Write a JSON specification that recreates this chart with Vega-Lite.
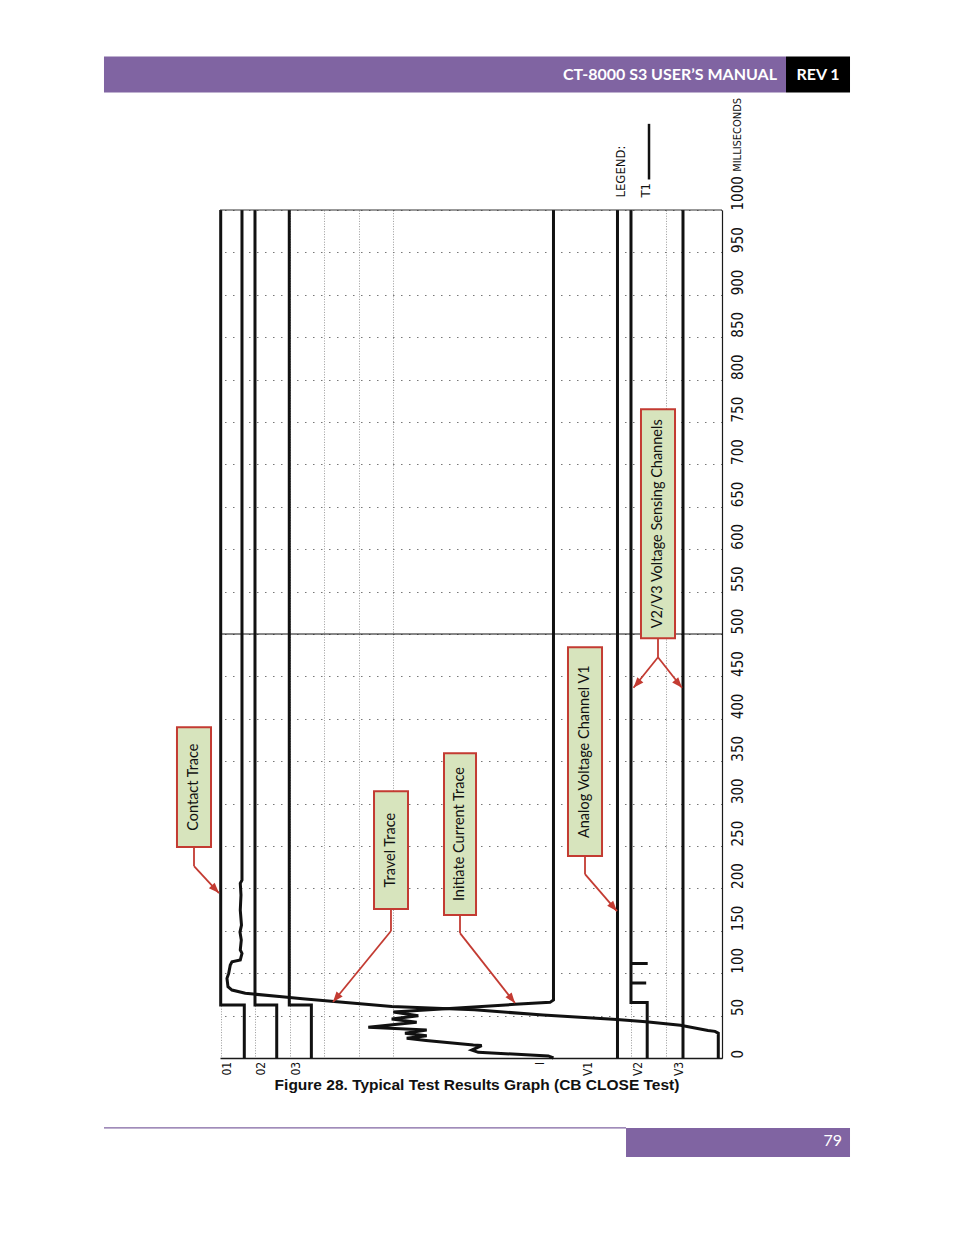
{
  "$schema": "https://vega.github.io/schema/vega-lite/v6.json",
  "width": 502,
  "height": 848,
  "autosize": {"type": "none"},
  "padding": {"left": 220, "top": 210, "right": 232, "bottom": 177},
  "background": "white",
  "config": {"view": {"stroke": null}, "font": "Lato"},
  "datasets": {
    "traces": [
      {"trace": "01", "seq": 1, "pos": 0.14, "ms": 1000},
      {"trace": "01", "seq": 2, "pos": 0.14, "ms": 62.5},
      {"trace": "01", "seq": 3, "pos": 4.84, "ms": 62.5},
      {"trace": "01", "seq": 4, "pos": 4.84, "ms": 0},
      {"trace": "02", "seq": 1, "pos": 6.97, "ms": 1000},
      {"trace": "02", "seq": 2, "pos": 6.97, "ms": 62.5},
      {"trace": "02", "seq": 3, "pos": 11.3, "ms": 62.5},
      {"trace": "02", "seq": 4, "pos": 11.3, "ms": 0},
      {"trace": "03", "seq": 1, "pos": 13.8, "ms": 1000},
      {"trace": "03", "seq": 2, "pos": 13.8, "ms": 62.5},
      {"trace": "03", "seq": 3, "pos": 18.2, "ms": 62.5},
      {"trace": "03", "seq": 4, "pos": 18.2, "ms": 0},
      {"trace": "Travel", "seq": 1, "pos": 99.26, "ms": 0},
      {"trace": "Travel", "seq": 2, "pos": 99.26, "ms": 29.2},
      {"trace": "Travel", "seq": 3, "pos": 98.6, "ms": 31.4},
      {"trace": "Travel", "seq": 4, "pos": 97.21, "ms": 32.5},
      {"trace": "Travel", "seq": 5, "pos": 91.73, "ms": 38.5},
      {"trace": "Travel", "seq": 6, "pos": 84.86, "ms": 42.7},
      {"trace": "Travel", "seq": 7, "pos": 79.08, "ms": 45.5},
      {"trace": "Travel", "seq": 8, "pos": 64.34, "ms": 50.7},
      {"trace": "Travel", "seq": 9, "pos": 50.66, "ms": 56.8},
      {"trace": "Travel", "seq": 10, "pos": 34.22, "ms": 60.8},
      {"trace": "Travel", "seq": 11, "pos": 16.43, "ms": 69.8},
      {"trace": "Travel", "seq": 12, "pos": 12.35, "ms": 72.2},
      {"trace": "Travel", "seq": 13, "pos": 5.04, "ms": 76.3},
      {"trace": "Travel", "seq": 14, "pos": 2.39, "ms": 80.1},
      {"trace": "Travel", "seq": 15, "pos": 1.59, "ms": 84.0},
      {"trace": "Travel", "seq": 16, "pos": 1.39, "ms": 93.9},
      {"trace": "Travel", "seq": 17, "pos": 1.73, "ms": 99.8},
      {"trace": "Travel", "seq": 18, "pos": 2.05, "ms": 109.6},
      {"trace": "Travel", "seq": 19, "pos": 2.39, "ms": 113.5},
      {"trace": "Travel", "seq": 20, "pos": 4.04, "ms": 115.5},
      {"trace": "Travel", "seq": 21, "pos": 4.38, "ms": 123.4},
      {"trace": "Travel", "seq": 22, "pos": 4.04, "ms": 127.3},
      {"trace": "Travel", "seq": 23, "pos": 4.24, "ms": 139.1},
      {"trace": "Travel", "seq": 24, "pos": 3.98, "ms": 148.5},
      {"trace": "Travel", "seq": 25, "pos": 4.28, "ms": 156.7},
      {"trace": "Travel", "seq": 26, "pos": 4.04, "ms": 174.4},
      {"trace": "Travel", "seq": 27, "pos": 4.18, "ms": 192.1},
      {"trace": "Travel", "seq": 28, "pos": 4.04, "ms": 205.9},
      {"trace": "Travel", "seq": 29, "pos": 4.38, "ms": 209.8},
      {"trace": "Travel", "seq": 30, "pos": 4.38, "ms": 1000},
      {"trace": "I", "seq": 1, "pos": 66.43, "ms": 0},
      {"trace": "I", "seq": 2, "pos": 65.4, "ms": 2.4},
      {"trace": "I", "seq": 3, "pos": 51.45, "ms": 6.7},
      {"trace": "I", "seq": 4, "pos": 50.14, "ms": 9.4},
      {"trace": "I", "seq": 5, "pos": 52.13, "ms": 14.7},
      {"trace": "I", "seq": 6, "pos": 50.46, "ms": 15.3},
      {"trace": "I", "seq": 7, "pos": 41.04, "ms": 20.6},
      {"trace": "I", "seq": 8, "pos": 37.19, "ms": 23.2},
      {"trace": "I", "seq": 9, "pos": 41.18, "ms": 26.3},
      {"trace": "I", "seq": 10, "pos": 36.85, "ms": 29.1},
      {"trace": "I", "seq": 11, "pos": 41.18, "ms": 33.0},
      {"trace": "I", "seq": 12, "pos": 29.54, "ms": 36.2},
      {"trace": "I", "seq": 13, "pos": 39.18, "ms": 42.1},
      {"trace": "I", "seq": 14, "pos": 34.2, "ms": 46.0},
      {"trace": "I", "seq": 15, "pos": 39.5, "ms": 49.9},
      {"trace": "I", "seq": 16, "pos": 34.52, "ms": 54.2},
      {"trace": "I", "seq": 17, "pos": 58.76, "ms": 63.3},
      {"trace": "I", "seq": 18, "pos": 65.74, "ms": 65.6},
      {"trace": "I", "seq": 19, "pos": 66.43, "ms": 68.4},
      {"trace": "I", "seq": 20, "pos": 66.43, "ms": 1000},
      {"trace": "V1", "seq": 1, "pos": 79.18, "ms": 0},
      {"trace": "V1", "seq": 2, "pos": 79.18, "ms": 1000},
      {"trace": "V2", "seq": 1, "pos": 85.1, "ms": 0},
      {"trace": "V2", "seq": 2, "pos": 85.1, "ms": 65.5},
      {"trace": "V2", "seq": 3, "pos": 81.87, "ms": 65.5},
      {"trace": "V2", "seq": 4, "pos": 81.87, "ms": 88.4},
      {"trace": "V2", "seq": 5, "pos": 84.9, "ms": 88.4},
      {"trace": "V2", "seq": 6, "pos": 81.87, "ms": 88.4},
      {"trace": "V2", "seq": 7, "pos": 81.87, "ms": 111.5},
      {"trace": "V2", "seq": 8, "pos": 85.2, "ms": 111.5},
      {"trace": "V2", "seq": 9, "pos": 81.87, "ms": 111.5},
      {"trace": "V2", "seq": 10, "pos": 81.87, "ms": 1000},
      {"trace": "V3", "seq": 1, "pos": 92.23, "ms": 0},
      {"trace": "V3", "seq": 2, "pos": 92.23, "ms": 1000}
    ],
    "channels": [
      {"channel": "01", "pos": 1.4},
      {"channel": "02", "pos": 8.2},
      {"channel": "03", "pos": 15.1},
      {"channel": "I", "pos": 63.7},
      {"channel": "V1", "pos": 73.3},
      {"channel": "V2", "pos": 83.3},
      {"channel": "V3", "pos": 91.4}
    ],
    "boxes": [
      {"label": "Contact Trace", "x1": -8.57, "x2": -1.79, "t1": 248.7, "t2": 390.1, "xc": -5.18, "tc": 319.4},
      {"label": "Travel Trace", "x1": 30.68, "x2": 37.45, "t1": 175.6, "t2": 314.7, "xc": 34.06, "tc": 245.1},
      {"label": "Initiate Current Trace", "x1": 44.62, "x2": 51.0, "t1": 168.5, "t2": 359.5, "xc": 47.81, "tc": 264.0},
      {"label": "Analog Voltage Channel V1", "x1": 69.32, "x2": 76.1, "t1": 238.1, "t2": 484.4, "xc": 72.71, "tc": 361.2},
      {"label": "V2/V3 Voltage Sensing Channels", "x1": 83.86, "x2": 90.64, "t1": 495.0, "t2": 764.9, "xc": 87.25, "tc": 629.9}
    ],
    "leaders": [
      {"x": -5.18, "t": 248.7, "x2": -5.18, "t2": 226.3},
      {"x": -5.18, "t": 226.3, "x2": -0.2, "t2": 194.5},
      {"x": 34.06, "t": 175.6, "x2": 34.06, "t2": 149.7},
      {"x": 34.06, "t": 149.7, "x2": 22.51, "t2": 66.0},
      {"x": 47.81, "t": 168.5, "x2": 47.81, "t2": 147.3},
      {"x": 47.81, "t": 147.3, "x2": 58.76, "t2": 64.8},
      {"x": 72.71, "t": 238.1, "x2": 72.71, "t2": 216.8},
      {"x": 72.71, "t": 216.8, "x2": 79.08, "t2": 173.2},
      {"x": 87.25, "t": 495.0, "x2": 87.25, "t2": 472.6},
      {"x": 87.25, "t": 472.6, "x2": 82.37, "t2": 436.6},
      {"x": 87.25, "t": 472.6, "x2": 92.03, "t2": 436.6}
    ],
    "tips": [
      {"x": -0.2, "t": 194.5, "dir": 136.1},
      {"x": 22.51, "t": 66.0, "dir": 219.2},
      {"x": 58.76, "t": 64.8, "dir": 141.8},
      {"x": 79.08, "t": 173.2, "dir": 139.1},
      {"x": 82.37, "t": 436.6, "dir": 221.2},
      {"x": 92.03, "t": 436.6, "dir": 139.4}
    ]
  },
  "layer": [
    {
      "data": {"name": "traces"},
      "mark": {"type": "line", "color": "#111", "strokeCap": "butt"},
      "encoding": {
        "x": {
          "field": "pos",
          "type": "quantitative",
          "scale": {"domain": [0, 100], "nice": false, "zero": false},
          "axis": {
            "orient": "bottom",
            "values": [0.2, 6.97, 13.94, 20.72, 27.59, 34.46, 81.87, 88.84],
            "title": null,
            "labels": false,
            "ticks": false,
            "domain": true,
            "domainColor": "#1a1a1a",
            "domainWidth": 1.3,
            "grid": true,
            "gridColor": "#9a9a9a",
            "gridDash": [1, 1.6],
            "gridWidth": 1
          }
        },
        "y": {
          "field": "ms",
          "type": "quantitative",
          "scale": {"domain": [0, 1000], "nice": false, "zero": false},
          "axis": {
            "orient": "right",
            "values": [0, 50, 100, 150, 200, 250, 300, 350, 400, 450, 500, 550, 600, 650, 700, 750, 800, 850, 900, 950, 1000],
            "format": "d",
            "title": null,
            "ticks": false,
            "domain": true,
            "domainColor": "#1a1a1a",
            "domainWidth": 1.2,
            "grid": true,
            "gridColor": "#777",
            "gridDash": [1.5, 6.5],
            "gridWidth": 1.2,
            "labelAngle": 270,
            "labelAlign": "left",
            "labelBaseline": "middle",
            "labelPadding": 15,
            "labelFont": "DejaVu Sans Condensed",
            "labelFontSize": 15,
            "labelColor": "#111",
            "labelOverlap": false,
            "labelBound": false,
            "labelFlush": false
          }
        },
        "detail": {"field": "trace"},
        "order": {"field": "seq", "type": "quantitative"},
        "strokeWidth": {
          "field": "trace",
          "type": "nominal",
          "scale": {
            "domain": ["01", "02", "03", "Travel", "I", "V1", "V2", "V3"],
            "range": [3, 3, 3, 1.3, 1.3, 1.6, 3, 3]
          },
          "legend": null
        }
      }
    },
    {
      "data": {"values": [{}]},
      "mark": {"type": "rule", "color": "#333", "strokeWidth": 1.2},
      "encoding": {"y": {"datum": 1000}}
    },
    {
      "data": {"values": [{}]},
      "mark": {"type": "rule", "color": "#111", "strokeWidth": 1},
      "encoding": {"y": {"datum": 500}}
    },
    {
      "data": {"name": "channels"},
      "mark": {"type": "text", "angle": 270, "align": "right", "baseline": "middle", "font": "DejaVu Sans Condensed", "fontSize": 12, "color": "#111"},
      "encoding": {
        "x": {"field": "pos", "type": "quantitative"},
        "y": {"datum": -4.5},
        "text": {"field": "channel"}
      }
    },
    {
      "data": {"values": [{}]},
      "mark": {"type": "text", "angle": 270, "align": "left", "baseline": "middle", "font": "DejaVu Sans Condensed", "fontSize": 11, "color": "#111", "text": "MILLISECONDS"},
      "encoding": {"x": {"datum": 103.19}, "y": {"datum": 1045}}
    },
    {
      "data": {"values": [{}]},
      "mark": {"type": "text", "angle": 270, "align": "left", "baseline": "middle", "font": "DejaVu Sans Condensed", "fontSize": 13, "color": "#111", "text": "LEGEND:"},
      "encoding": {"x": {"datum": 79.88}, "y": {"datum": 1014.7}}
    },
    {
      "data": {"values": [{}]},
      "mark": {"type": "text", "angle": 270, "align": "left", "baseline": "middle", "font": "DejaVu Sans Condensed", "fontSize": 13, "color": "#111", "text": "T1"},
      "encoding": {"x": {"datum": 84.86}, "y": {"datum": 1014.7}}
    },
    {
      "data": {"values": [{}]},
      "mark": {"type": "rule", "color": "#111", "strokeWidth": 2.5},
      "encoding": {"x": {"datum": 85.46}, "y": {"datum": 1036}, "y2": {"datum": 1101.6}}
    },
    {
      "data": {"name": "boxes"},
      "mark": {"type": "rect", "fill": "#d7e4bd", "stroke": "#c33b32", "strokeWidth": 2},
      "encoding": {
        "x": {"field": "x1", "type": "quantitative"},
        "x2": {"field": "x2"},
        "y": {"field": "t1", "type": "quantitative"},
        "y2": {"field": "t2"}
      }
    },
    {
      "data": {"name": "boxes"},
      "mark": {"type": "text", "angle": 270, "align": "center", "baseline": "middle", "font": "Lato", "fontSize": 14.5, "color": "#111"},
      "encoding": {
        "x": {"field": "xc", "type": "quantitative"},
        "y": {"field": "tc", "type": "quantitative"},
        "text": {"field": "label"}
      }
    },
    {
      "data": {"name": "leaders"},
      "mark": {"type": "rule", "color": "#c33b32", "strokeWidth": 1.8},
      "encoding": {
        "x": {"field": "x", "type": "quantitative"},
        "x2": {"field": "x2"},
        "y": {"field": "t", "type": "quantitative"},
        "y2": {"field": "t2"}
      }
    },
    {
      "data": {"name": "tips"},
      "mark": {"type": "point", "shape": "M0,0L-0.65,1.7L0.65,1.7Z", "filled": true, "color": "#c33b32", "size": 150, "opacity": 1},
      "encoding": {
        "x": {"field": "x", "type": "quantitative"},
        "y": {"field": "t", "type": "quantitative"},
        "angle": {"field": "dir", "type": "quantitative", "scale": null}
      }
    },
    {
      "data": {"values": [{}]},
      "mark": {"type": "rect", "fill": "#8064a2"},
      "encoding": {"x": {"datum": -23.11}, "x2": {"datum": 112.75}, "y": {"datum": 1138.5}, "y2": {"datum": 1180.9}}
    },
    {
      "data": {"values": [{}]},
      "mark": {"type": "rect", "fill": "#000000"},
      "encoding": {"x": {"datum": 112.75}, "x2": {"datum": 125.5}, "y": {"datum": 1138.5}, "y2": {"datum": 1180.9}}
    },
    {
      "data": {"values": [{}]},
      "mark": {"type": "text", "align": "right", "baseline": "middle", "font": "Lato", "fontWeight": "bold", "fontSize": 16, "color": "white", "text": "CT-8000 S3 USER’S MANUAL"},
      "encoding": {"x": {"datum": 110.96}, "y": {"datum": 1159.7}}
    },
    {
      "data": {"values": [{}]},
      "mark": {"type": "text", "align": "center", "baseline": "middle", "font": "Lato", "fontWeight": "bold", "fontSize": 16, "color": "white", "text": "REV 1"},
      "encoding": {"x": {"datum": 119.12}, "y": {"datum": 1159.7}}
    },
    {
      "data": {"values": [{}]},
      "mark": {"type": "text", "align": "center", "baseline": "middle", "font": "Liberation Sans", "fontWeight": "bold", "fontSize": 15.5, "color": "#111", "text": "Figure 28. Typical Test Results Graph (CB CLOSE Test)"},
      "encoding": {"x": {"datum": 51.2}, "y": {"datum": -31.5}}
    },
    {
      "data": {"values": [{}]},
      "mark": {"type": "rule", "color": "#8064a2", "strokeWidth": 1.3},
      "encoding": {"x": {"datum": -23.11}, "x2": {"datum": 80.88}, "y": {"datum": -82.5}}
    },
    {
      "data": {"values": [{}]},
      "mark": {"type": "rect", "fill": "#8064a2"},
      "encoding": {"x": {"datum": 80.88}, "x2": {"datum": 125.5}, "y": {"datum": -82.5}, "y2": {"datum": -116.7}}
    },
    {
      "data": {"values": [{}]},
      "mark": {"type": "text", "align": "right", "baseline": "middle", "font": "Lato", "fontSize": 16, "color": "white", "text": "79"},
      "encoding": {"x": {"datum": 123.9}, "y": {"datum": -97.8}}
    }
  ]
}
